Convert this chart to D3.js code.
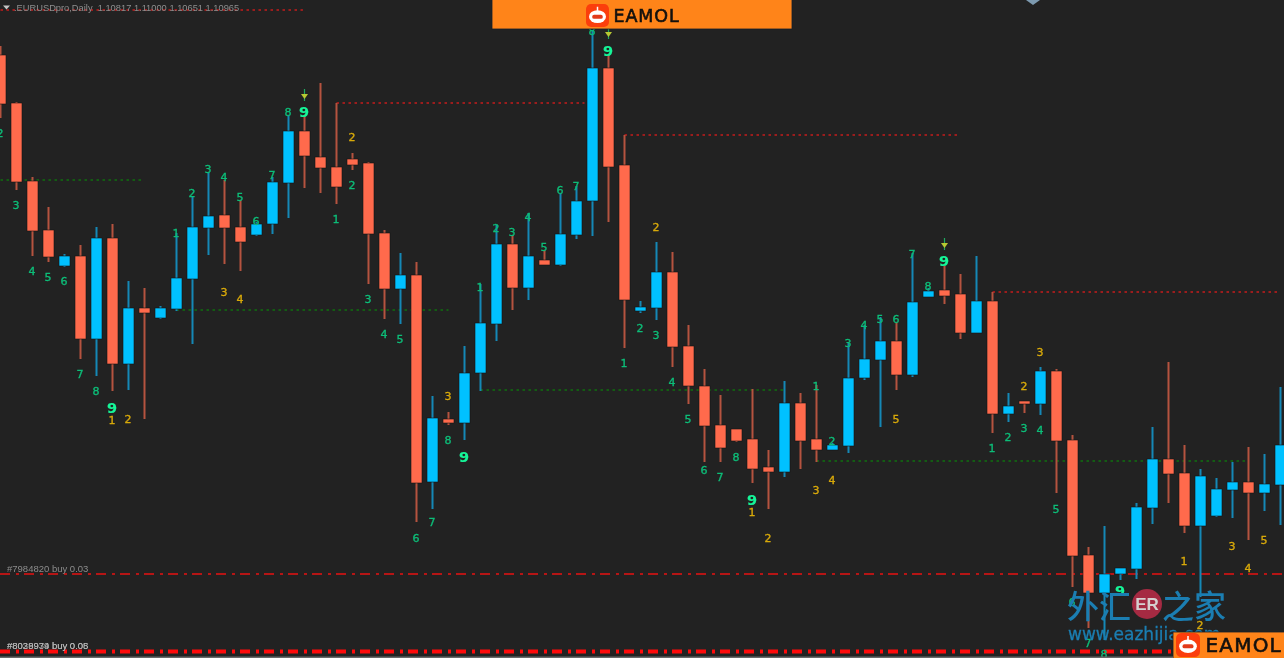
<!DOCTYPE html>
<html lang="en">
<head>
<meta charset="utf-8">
<title>EURUSD Daily</title>
<script src="https://cdn.jsdelivr.net/npm/d3@7/dist/d3.min.js"></script>
<style>
html,body{margin:0;padding:0;background:#222222;overflow:hidden}
svg{display:block;filter:blur(0.4px)}
</style>
</head>
<body>
<script>
const opens = [1.1103,1.1055,1.0977,1.0928,1.0892,1.0902,1.0819,1.0920,1.0794,1.0850,1.0840,1.0849,1.0879,1.0930,1.0943,1.0931,1.0923,1.0934,1.0975,1.1027,1.1001,1.0991,1.0999,1.0995,1.0925,1.0869,1.0883,1.0676,1.0739,1.0735,1.0785,1.0834,1.0914,1.0870,1.0898,1.0893,1.0923,1.0957,1.1090,1.0993,1.0847,1.0850,1.0886,1.0812,1.0772,1.0733,1.0729,1.0719,1.0691,1.0686,1.0755,1.0719,1.0708,1.0712,1.0780,1.0798,1.0817,1.0783,1.0861,1.0868,1.0864,1.0825,1.0857,1.0744,1.0757,1.0754,1.0787,1.0718,1.0603,1.0565,1.0584,1.0589,1.0650,1.0699,1.0685,1.0632,1.0642,1.0668,1.0676,1.0665,1.0673];
const closes = [1.1054,1.0976,1.0927,1.0901,1.0902,1.0819,1.0920,1.0794,1.0850,1.0845,1.0850,1.0880,1.0931,1.0942,1.0930,1.0916,1.0934,1.0976,1.1027,1.1002,1.0990,1.0971,1.0993,1.0924,1.0869,1.0883,1.0675,1.0740,1.0735,1.0785,1.0835,1.0914,1.0870,1.0902,1.0893,1.0924,1.0957,1.1090,1.0991,1.0858,1.0851,1.0886,1.0811,1.0772,1.0732,1.0710,1.0717,1.0689,1.0686,1.0755,1.0717,1.0708,1.0713,1.0780,1.0799,1.0817,1.0783,1.0856,1.0867,1.0862,1.0825,1.0857,1.0744,1.0752,1.0754,1.0787,1.0717,1.0602,1.0565,1.0584,1.0590,1.0651,1.0699,1.0684,1.0632,1.0682,1.0669,1.0676,1.0665,1.0674,1.0713];
const highs = [1.1112,1.1056,1.0981,1.0951,1.0904,1.0913,1.0931,1.0934,1.0877,1.0870,1.0852,1.0925,1.0961,1.0985,1.0978,1.0958,1.0936,1.0981,1.1043,1.1043,1.1075,1.1055,1.1005,1.0996,1.0928,1.0905,1.0896,1.0762,1.0746,1.0812,1.0874,1.0933,1.0923,1.0945,1.0908,1.0965,1.0972,1.1128,1.1103,1.1023,1.0857,1.0916,1.0906,1.0833,1.0789,1.0763,1.0729,1.0769,1.0708,1.0777,1.0765,1.0773,1.0715,1.0815,1.0833,1.0841,1.0836,1.0905,1.0870,1.0892,1.0884,1.0902,1.0866,1.0765,1.0757,1.0791,1.0789,1.0723,1.0611,1.0632,1.0590,1.0655,1.0731,1.0796,1.0713,1.0689,1.0680,1.0696,1.0711,1.0704,1.0771];
const lows = [1.1040,1.0968,1.0902,1.0896,1.0891,1.0799,1.0782,1.0767,1.0768,1.0739,1.0839,1.0847,1.0814,1.0903,1.0894,1.0887,1.0922,1.0924,1.0940,1.0970,1.0965,1.0954,1.0988,1.0874,1.0839,1.0834,1.0636,1.0649,1.0733,1.0718,1.0767,1.0817,1.0848,1.0858,1.0893,1.0892,1.0919,1.0922,1.0936,1.0810,1.0845,1.0838,1.0791,1.0754,1.0696,1.0696,1.0716,1.0675,1.0649,1.0681,1.0689,1.0696,1.0708,1.0705,1.0778,1.0731,1.0768,1.0781,1.0861,1.0854,1.0819,1.0825,1.0725,1.0736,1.0745,1.0743,1.0665,1.0571,1.0530,1.0518,1.0578,1.0579,1.0634,1.0655,1.0625,1.0561,1.0641,1.0640,1.0618,1.0647,1.0633];

const greenSessions = [0,1,2,3,4,5,6,11,12,13,14,15,16,17,18,21,22,23,24,25,26,27,28,30,31,32,33,34,35,36,37,39,40,41,42,43,44,45,46,51,52,53,54,55,56,57,58,62,63,64,65,66,67,68,69];
const greenCounts = [2,3,4,5,6,7,8,1,2,3,4,5,6,7,8,1,2,3,4,5,6,7,8,1,2,3,4,5,6,7,8,1,2,3,4,5,6,7,8,1,2,3,4,5,6,7,8,1,2,3,4,5,6,7,8];
const greenPrices = [1.1025,1.0953,1.0887,1.0881,1.0877,1.0784,1.0767,1.0925,1.0965,1.0989,1.0981,1.0961,1.0937,1.0983,1.1046,1.0939,1.0973,1.0859,1.0824,1.0819,1.0620,1.0636,1.0718,1.0871,1.0930,1.0926,1.0941,1.0911,1.0968,1.0972,1.1127,1.0795,1.0830,1.0823,1.0776,1.0739,1.0688,1.0681,1.0701,1.0772,1.0717,1.0815,1.0833,1.0839,1.0839,1.0904,1.0872,1.0710,1.0721,1.0730,1.0728,1.0649,1.0556,1.0515,1.0504];

const yellowSessions = [7,8,14,15,22,28,41,47,48,51,52,56,64,65,74,75,77,78,79];
const yellowCounts = [1,2,3,4,2,3,2,1,2,3,4,5,2,3,1,2,3,4,5];
const yellowPrices = [1.0738,1.0739,1.0866,1.0859,1.1021,1.0762,1.0931,1.0646,1.0620,1.0668,1.0678,1.0739,1.0772,1.0806,1.0597,1.0533,1.0612,1.0590,1.0618];

const nineSessions = [7,19,29,38,47,59,70];
const ninePrices = [1.0750,1.1046,1.0701,1.1107,1.0658,1.0897,1.0567];
const arrowSessions = [19,38,59];
const arrowPrices = [1.1063,1.1125,1.0914];

const redLevels = [1.1148,1.1055,1.1023,1.0866];
const redStarts = [0,21,39,62];
const redEnds = [18.9,36.5,59.85,80];
const greenLevels = [1.0978,1.0848,1.0768,1.0697];
const greenStarts = [0,11,30,51];
const greenEnds = [8.8,28,49,78];
const orderLevels = [1.0584,1.05065,1.05065];
const orderTexts = ["#7984820 buy 0.03","#8028939 buy 0.05","#8039974 buy 0.08"];
const title = ".EURUSDpro,Daily  1.10817 1.11000 1.10651 1.10965";

const W = 1284, H = 658;
const svg = d3.select("body").append("svg").attr("width", W).attr("height", H);
svg.append("rect").attr("width", W).attr("height", H).attr("fill", "#222222");

const x = d3.scaleLinear().domain([0, 80]).range([0.5, 1280.5]);
const y = d3.scaleLinear().domain([1.1158, 1.05]).range([0, 658]);
const UP = "#00c1ff", DOWN = "#ff6a4c", UPW = "#1588b6", DOWNW = "#b5533f";
const sessions = d3.range(opens.length);
const SANS = "'Liberation Sans',Arial,sans-serif";

// level lines
function levels(prices, starts, ends, color) {
  svg.append("g").selectAll("line").data(prices).join("line")
    .attr("x1", (d, i) => x(starts[i])).attr("x2", (d, i) => x(ends[i]))
    .attr("y1", d => y(d)).attr("y2", d => y(d))
    .attr("stroke", color).attr("stroke-width", 1.5).attr("stroke-dasharray", "2.5 3.5");
}
levels(redLevels, redStarts, redEnds, "#c41c1c");
levels(greenLevels, greenStarts, greenEnds, "#0f700f");

// order lines
svg.append("line").attr("x1", 0).attr("x2", W).attr("y1", y(orderLevels[0])).attr("y2", y(orderLevels[0]))
  .attr("stroke", "#e81212").attr("stroke-width", 1.5).attr("stroke-dasharray", "10 6 3 5");
svg.append("line").attr("x1", 0).attr("x2", W).attr("y1", y(orderLevels[1])).attr("y2", y(orderLevels[1]))
  .attr("stroke", "#ff0a0a").attr("stroke-width", 4).attr("stroke-dasharray", "10 6 3 5");
svg.append("g").selectAll("text").data(orderTexts).join("text")
  .attr("x", 7).attr("transform", (d, i) => `translate(0,${y(orderLevels[i]) - 2.5})`)
  .attr("font-family", SANS).attr("font-size", 9.5).attr("fill", (d, i) => i ? "#b4b4b4" : "#8c8c8c").text(d => d);

// candles
const candle = svg.append("g").selectAll("g").data(sessions).join("g")
  .attr("transform", d => `translate(${x(d)},0)`);
candle.append("line").attr("y1", d => y(highs[d])).attr("y2", d => y(lows[d]))
  .attr("stroke", d => closes[d] >= opens[d] ? UPW : DOWNW).attr("stroke-width", 2);
candle.append("rect").attr("x", -5.5).attr("width", 11)
  .attr("y", d => y(Math.max(opens[d], closes[d])))
  .attr("height", d => Math.abs(y(opens[d]) - y(closes[d])))
  .attr("fill", d => closes[d] >= opens[d] ? UP : DOWN)
  .attr("stroke", "#141414").attr("stroke-width", 0.6);

// counts
function counts(sess, texts, prices, color, size, weight, halo) {
  svg.append("g").selectAll("text").data(sess).join("text")
    .attr("x", d => x(d) - 0.5).attr("y", (d, i) => y(prices[i]))
    .attr("text-anchor", "middle").attr("dominant-baseline", "central")
    .attr("font-family", "'DejaVu Sans',sans-serif").attr("font-size", size).attr("font-weight", weight)
    .attr("fill", color).attr("stroke", color).attr("stroke-width", halo).text((d, i) => texts[i]);
}
counts(greenSessions, greenCounts, greenPrices, "#0dbd78", 11, 400, 0.35);
counts(yellowSessions, yellowCounts, yellowPrices, "#d8a90a", 11, 400, 0.35);
counts(nineSessions, nineSessions.map(() => 9), ninePrices, "#16f598", 14.5, 700, 0.2);

// arrows
const arrow = svg.append("g").selectAll("g").data(arrowSessions).join("g")
  .attr("transform", (d, i) => `translate(${x(d)},${y(arrowPrices[i])})`);
arrow.append("line").attr("y1", -6).attr("y2", 6).attr("stroke", "#1ea860").attr("stroke-width", 1.2);
arrow.append("path").attr("d", "M-3.5,-1L3.5,-1L0,4Z").attr("fill", "#b8c832");

// watermark
const wm = svg.append("g");
wm.append("text").attr("x", 1067).attr("y", 618).attr("font-family", "'Noto Sans CJK SC'")
  .attr("font-size", 32).attr("font-weight", 500).attr("fill", "#1b7eb2").text("外汇");
wm.append("circle").attr("cx", 1147).attr("cy", 604).attr("r", 15).attr("fill", "#a52a42");
wm.append("text").attr("x", 1147).attr("y", 610).attr("text-anchor", "middle").attr("font-family", SANS)
  .attr("font-size", 17).attr("font-weight", 700).attr("fill", "#d6d0d0").text("ER");
wm.append("text").attr("x", 1162).attr("y", 618).attr("font-family", "'Noto Sans CJK SC'")
  .attr("font-size", 32).attr("font-weight", 500).attr("fill", "#1b7eb2").text("之家");
wm.append("text").attr("x", 1068).attr("y", 640).attr("font-family", "'DejaVu Sans',sans-serif")
  .attr("font-size", 17).attr("stroke", "#1b7eb2").attr("stroke-width", 0.3).attr("fill", "#1b7eb2").text("www.eazhijia.com");

// logo banners
function logo(bx, by, bw, bh, ix, iy, is, tx, tb, fs, ts) {
  svg.append("rect").attr("x", bx).attr("y", by).attr("width", bw).attr("height", bh)
    .attr("fill", "#ff8419").attr("stroke", "#15202c").attr("stroke-width", 0.8);
  const g = svg.append("g").attr("transform", `translate(${ix},${iy})`);
  g.append("rect").attr("width", is).attr("height", is).attr("rx", is * 0.22).attr("fill", "#fb3e0c");
  g.append("ellipse").attr("cx", is / 2).attr("cy", is * 0.55).attr("rx", is * 0.37).attr("ry", is * 0.28).attr("fill", "#fff");
  g.append("line").attr("x1", is / 2).attr("x2", is / 2).attr("y1", is * 0.12).attr("y2", is * 0.3).attr("stroke", "#fff").attr("stroke-width", 1.5);
  g.append("rect").attr("x", is * 0.27).attr("y", is * 0.47).attr("width", is * 0.46).attr("height", is * 0.17).attr("rx", is * 0.08).attr("fill", "#e23a1a");
  svg.append("text").attr("x", tx).attr("y", tb).attr("font-family", "'DejaVu Sans',sans-serif")
    .attr("font-size", fs).attr("letter-spacing", ts).attr("fill", "#14110e").attr("stroke", "#14110e").attr("stroke-width", 0.6).text("EAMOL");
}
logo(492, -1, 300, 30, 586, 4, 23, 613.5, 22, 17.5, 0.9);
logo(1173, 632, 112, 27, 1176, 633, 24, 1205.5, 652, 20, 1.2);

// chart title and corner marks
svg.append("path").attr("d", "M3,5.5L10,5.5L6.5,9.5Z").attr("fill", "#c4c4c4");
svg.append("text").attr("x", 14).attr("y", 11).attr("font-family", SANS).attr("font-size", 9.3)
  .attr("fill", "#8e8e8e").style("white-space", "pre").text(title);
svg.append("path").attr("d", "M1026,0L1040,0L1033,5Z").attr("fill", "#7d9ab0");
svg.append("rect").attr("x", 0).attr("y", 656.5).attr("width", W - 111).attr("height", 1.5).attr("fill", "#6a6a6a");
</script>
</body>
</html>
